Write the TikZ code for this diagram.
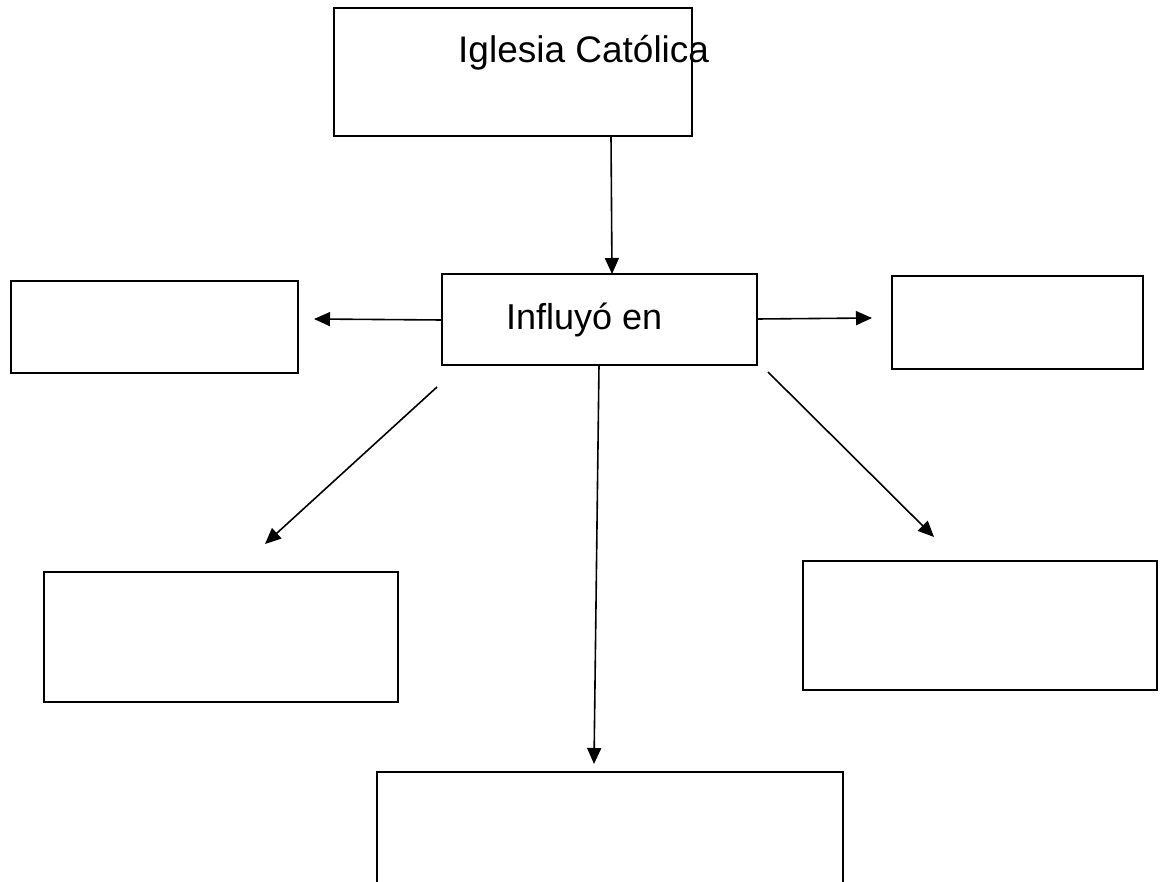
\documentclass[tikz,border=0pt]{standalone}
\usepackage{fontspec}
\setmainfont{Liberation Sans}
\usetikzlibrary{arrows.meta}
\begin{document}
\begin{tikzpicture}[x=1pt,y=-1pt,
  boxstyle/.style={draw=black,line width=1.8pt},
  conn/.style={draw=black,line width=1.6pt,-{Triangle[length=16pt,width=14pt]}},
  lbl/.style={inner sep=0pt,anchor=base west,font=\fontsize{37}{40}\selectfont}]
\clip (0,0) rectangle (1160,882);
\fill[white] (0,0) rectangle (1160,882);
% boxes
\draw[boxstyle] (334,8) rectangle (692,136);
\coordinate (topS) at (611,136);
\node[lbl] (t1) at (458,63) {Iglesia Católica};
\draw[boxstyle] (442,274) rectangle (757,365);
\coordinate (inN) at (612,274);
\coordinate (inW) at (442,320);
\coordinate (inE) at (757,319);
\coordinate (inS) at (599,365);
\coordinate (inSW) at (437,387);
\coordinate (inSE) at (768,372);
\node[lbl,font=\fontsize{36}{40}\selectfont] (t2) at (506,330) {Influyó en};
\draw[boxstyle] (11,281) rectangle (298,373);
\draw[boxstyle] (892,276) rectangle (1143,369);
\draw[boxstyle] (44,572) rectangle (398,702);
\draw[boxstyle] (803,561) rectangle (1157,690);
\draw[boxstyle] (377,900) -- (377,772) -- (843,772) -- (843,900);
% arrow tips
\coordinate (tipL) at (314,319);
\coordinate (tipR) at (872,318);
\coordinate (tipLM) at (265,544);
\coordinate (tipRM) at (934,537);
\coordinate (tipB) at (594,764);
% connectors
\draw[conn] (topS) -- (inN);
\draw[conn] (inW) -- (tipL);
\draw[conn] (inE) -- (tipR);
\draw[conn] (inSW) -- (tipLM);
\draw[conn] (inSE) -- (tipRM);
\draw[conn] (inS) -- (tipB);
\end{tikzpicture}
\end{document}
